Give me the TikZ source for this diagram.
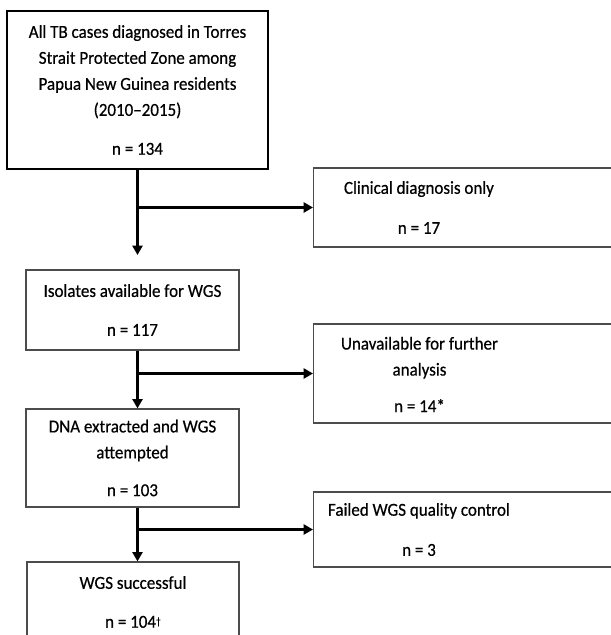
\documentclass[tikz,border=0pt]{standalone}
\usepackage{fontspec}
\setmainfont{Carlito}[FakeStretch=0.93,FakeBold=0.5]
\usepackage{tikz}
\usetikzlibrary{arrows.meta}

\begin{document}
\begin{tikzpicture}[
    mainbox/.style={draw=black,line width=1.7pt,align=center,inner sep=0pt},
    sidebox/.style={draw=black!70,line width=1pt,inner sep=0pt},
    stepbox/.style={draw=black!70,line width=1pt,align=center,inner sep=0pt},
    boxtext/.style={align=center,inner sep=0pt},
    flow/.style={line width=2.1pt,-{Triangle[length=0.28cm,width=0.3cm]}}]

  \def\f{*0.03}
  \def\u{*0.03cm}
  \fontsize{15.6}{22.2}\selectfont

  \useasboundingbox (0,0) rectangle (611\f,635\f);

  % left column
  \node[mainbox,minimum width=261\u,minimum height=158\u] (cases) at (137.5\f,545\f)
    {All TB cases diagnosed in Torres\\Strait Protected Zone among\\Papua New Guinea residents\\(2010--2015)\\[11pt]n = 134};
  \node[stepbox,minimum width=213\u,minimum height=80\u] (isolates) at (132.5\f,325\f)
    {Isolates available for WGS\\[11pt]n = 117};
  \node[stepbox,minimum width=213\u,minimum height=98\u] (dna) at (132.5\f,177\f)
    {DNA extracted and WGS\\attempted\\[10pt]n = 103};
  \node[stepbox,minimum width=212\u,minimum height=80\u] (wgs) at (133\f,33\f)
    {WGS successful\\[11pt]n = 104\raisebox{0.35ex}{\small\dag}};

  % right column (boxes run off the page)
  \node[sidebox,anchor=west,minimum width=360\u,minimum height=79\u] (clinical) at (313\f,427.5\f) {};
  \node[boxtext] (clinicaltxt) at (419\f,427.5\f) {Clinical diagnosis only\\[12pt]n = 17};
  \node[sidebox,anchor=west,minimum width=360\u,minimum height=99\u] (unavail) at (313\f,261.5\f) {};
  \node[boxtext] (unavailtxt) at (419.5\f,260.5\f) {Unavailable for further\\analysis\\[9pt]n = 14*};
  \node[sidebox,anchor=west,minimum width=360\u,minimum height=75\u] (failed) at (313\f,105.5\f) {};
  \node[boxtext] (failedtxt) at (419\f,105.5\f) {Failed WGS quality control\\[12pt]n = 3};

  \coordinate (gap) at (137.5\f,380\f);

  % arrows
  \draw[flow] (cases.south) -- (gap);
  \draw[flow] (cases.south |- clinical.west) -- (clinical.west);
  \draw[flow] (cases.south |- isolates.south) -- (cases.south |- dna.north);
  \draw[flow] (cases.south |- unavail.west) -- (unavail.west);
  \draw[flow] (cases.south |- dna.south) -- (cases.south |- wgs.north);
  \draw[flow] (cases.south |- failed.west) -- (failed.west);
\end{tikzpicture}
\end{document}
